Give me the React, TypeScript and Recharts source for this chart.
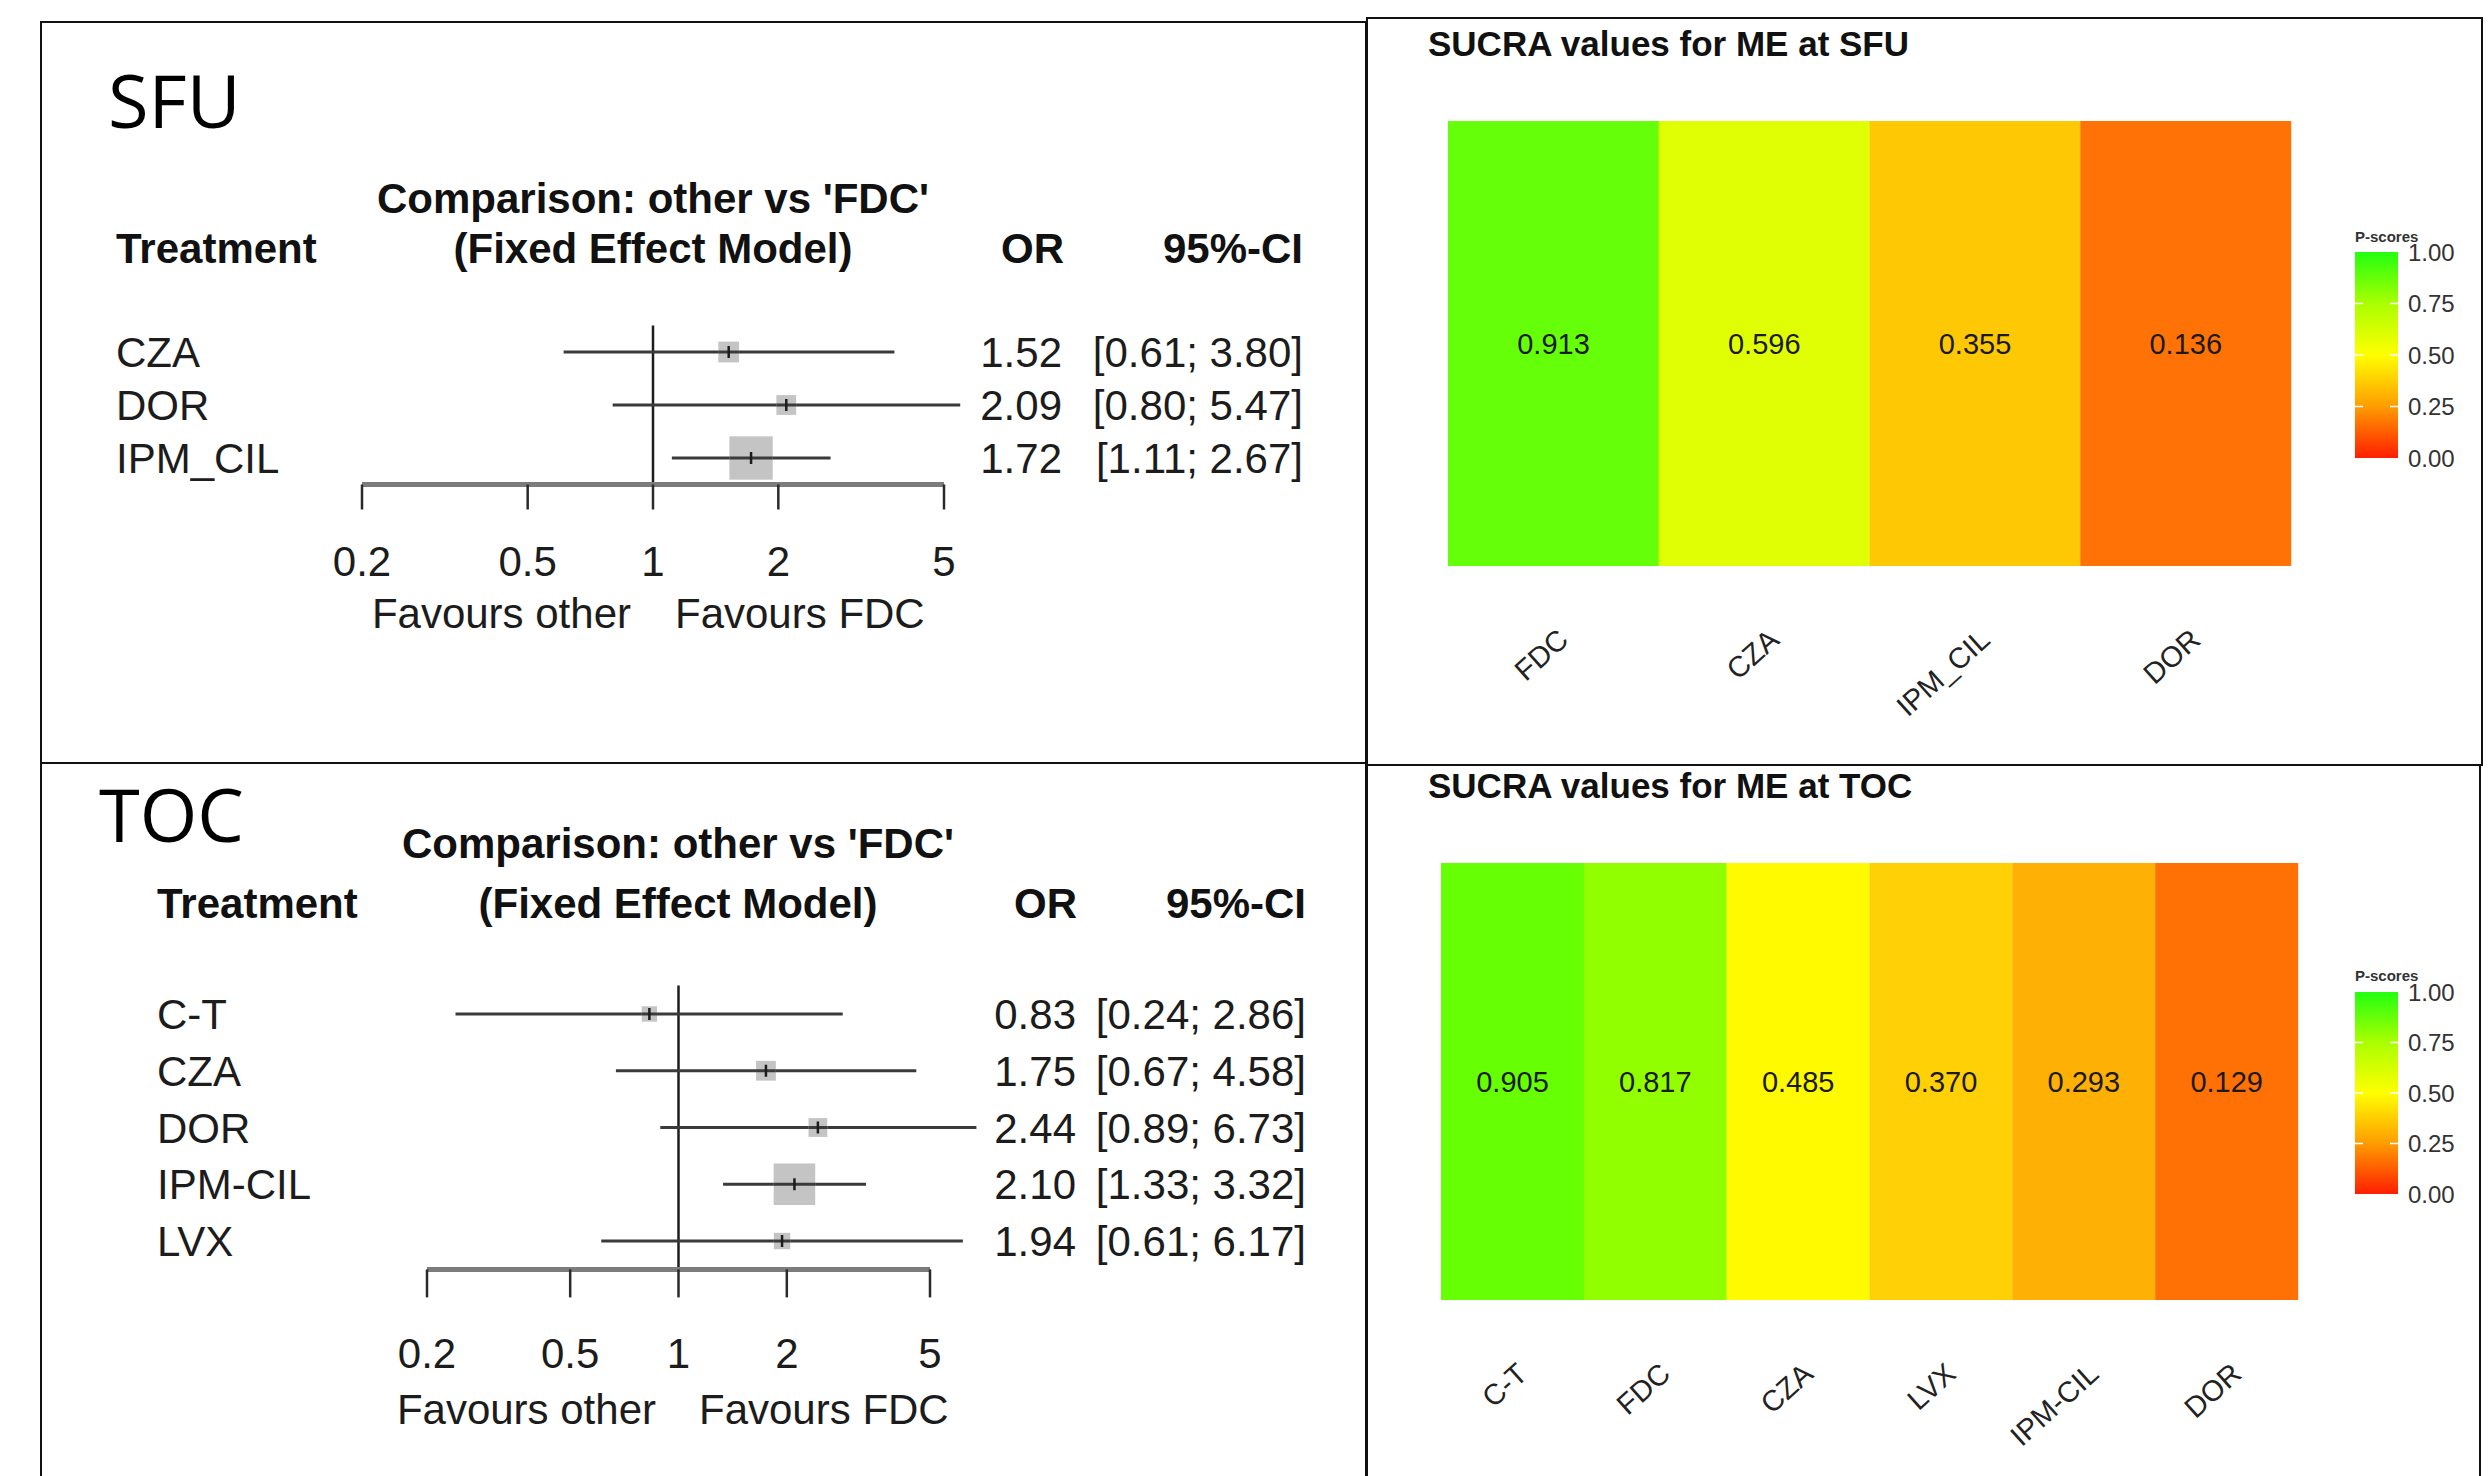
import React from 'react'
import {
  ScatterChart, Scatter, XAxis, YAxis, ReferenceLine,
  BarChart, Bar, Cell, LabelList,
} from 'recharts'

// forest plot data (OR vs FDC, fixed effect)
const SFU_TREAT = ['CZA', 'DOR', 'IPM_CIL']
const SFU_OR = [1.52, 2.09, 1.72]
const SFU_LO = [0.61, 0.80, 1.11]
const SFU_HI = [3.80, 5.47, 2.67]

const TOC_TREAT = ['C-T', 'CZA', 'DOR', 'IPM-CIL', 'LVX']
const TOC_OR = [0.83, 1.75, 2.44, 2.10, 1.94]
const TOC_LO = [0.24, 0.67, 0.89, 1.33, 0.61]
const TOC_HI = [2.86, 4.58, 6.73, 3.32, 6.17]

const OR_TICKS = [0.2, 0.5, 1, 2, 5]

// SUCRA / P-scores
const SFU_SUCRA_TREAT = ['FDC', 'CZA', 'IPM_CIL', 'DOR']
const SFU_SUCRA = [0.913, 0.596, 0.355, 0.136]
const SFU_TILE_COLORS = ['#66ff0a', '#e0ff05', '#ffc805', '#ff7205']

const TOC_SUCRA_TREAT = ['C-T', 'FDC', 'CZA', 'LVX', 'IPM-CIL', 'DOR']
const TOC_SUCRA = [0.905, 0.817, 0.485, 0.370, 0.293, 0.129]
const TOC_TILE_COLORS = ['#66ff03', '#92ff00', '#fffa00', '#ffd005', '#ffb005', '#ff7005']

const LEGEND_TICKS = [0, 0.25, 0.5, 0.75, 1]

const FONT = '"Liberation Sans", Arial, Helvetica, sans-serif'
const INK = '#1c1c1c'
const CI_LINE = '#3a3a3a'
const TXT = 42

interface ForestCfg {
  x: number; y: number; w: number; h: number
  plotL: number; plotR: number; plotT: number; plotB: number
  tickSize: number; tickMargin: number
  labelX: number; orX: number; ciX: number
}

const SFU_FOREST: ForestCfg = {
  x: 0, y: 0, w: 1367, h: 763,
  plotL: 362, plotR: 944, plotT: 325.5, plotB: 484.5,
  tickSize: 25, tickMargin: 37,
  labelX: 116, orX: 1062, ciX: 1303,
}

const TOC_FOREST: ForestCfg = {
  x: 0, y: 763, w: 1367, h: 713,
  plotL: 427, plotR: 930, plotT: 985.6, plotB: 1269.4,
  tickSize: 28, tickMargin: 41,
  labelX: 157, orX: 1076, ciX: 1306,
}

const AXIS_H = 130

function ForestPanel({ cfg, treat, or, lo, hi }: { cfg: ForestCfg; treat: string[]; or: number[]; lo: number[]; hi: number[] }) {
  const rows = treat.map((name, i) => ({
    row: i,
    name,
    or: or[i],
    lo: lo[i],
    hi: hi[i],
    se: (Math.log(hi[i]) - Math.log(lo[i])) / 3.92,
  }))

  const textProps = { fontFamily: FONT, fontSize: TXT, fill: INK }

  // grey box sized by inverse variance, then the row's texts
  const shape = (p: any) => {
    const { cx, cy, payload } = p
    const s = 9.7 / payload.se
    return (
      <g>
        <rect x={cx - s / 2} y={cy - s / 2} width={s} height={s} fill="#c4c4c4" />
        <line x1={cx - s / 2} x2={cx + s / 2} y1={cy} y2={cy} stroke={CI_LINE} strokeWidth={3} />
        <line x1={cx} x2={cx} y1={cy - 6} y2={cy + 6} stroke={INK} strokeWidth={2.5} />
        <text x={cfg.labelX - cfg.x} y={cy} dy="0.36em" {...textProps}>{payload.name}</text>
        <text x={cfg.orX - cfg.x} y={cy} dy="0.36em" textAnchor="end" {...textProps}>{payload.or.toFixed(2)}</text>
        <text x={cfg.ciX - cfg.x} y={cy} dy="0.36em" textAnchor="end" {...textProps}>
          {`[${payload.lo.toFixed(2)}; ${payload.hi.toFixed(2)}]`}
        </text>
      </g>
    )
  }

  return (
    <div style={{ position: 'absolute', left: cfg.x, top: cfg.y }}>
      <ScatterChart
        width={cfg.w}
        height={cfg.h}
        margin={{
          left: cfg.plotL - cfg.x,
          right: cfg.x + cfg.w - cfg.plotR,
          top: cfg.plotT - cfg.y,
          bottom: cfg.y + cfg.h - cfg.plotB - AXIS_H,
        }}
      >
        <XAxis
          type="number"
          dataKey="or"
          scale="log"
          domain={[0.2, 5]}
          ticks={OR_TICKS}
          tickFormatter={(v: number) => String(v)}
          height={AXIS_H}
          tickSize={cfg.tickSize}
          tickMargin={cfg.tickMargin}
          axisLine={{ stroke: '#7c7c7c', strokeWidth: 5 }}
          tickLine={{ stroke: '#2a2a2a', strokeWidth: 2.5 }}
          tick={{ fontFamily: FONT, fontSize: TXT, fill: INK }}
          interval={0}
        />
        <YAxis type="number" dataKey="row" domain={[-0.5, rows.length - 0.5]} reversed hide width={0} />
        <ReferenceLine x={1} stroke={INK} strokeWidth={2.5} />
        {rows.map(r => (
          <ReferenceLine
            key={r.name}
            segment={[{ x: r.lo, y: r.row }, { x: r.hi, y: r.row }]}
            stroke={CI_LINE}
            strokeWidth={3}
            ifOverflow="visible"
          />
        ))}
        <Scatter data={rows} shape={shape} isAnimationActive={false} />
      </ScatterChart>
    </div>
  )
}

interface SucraCfg {
  x: number; y: number; w: number; h: number
  plotL: number; plotR: number; plotT: number; plotB: number
}

const SFU_SUCRA_CFG: SucraCfg = { x: 1368, y: 18, w: 1114, h: 747, plotL: 1448, plotR: 2291, plotT: 121, plotB: 566 }
const TOC_SUCRA_CFG: SucraCfg = { x: 1368, y: 765, w: 1112, h: 711, plotL: 1441, plotR: 2298, plotT: 863, plotB: 1300 }

const HEAT_AXIS_H = 150

const RotTick = (props: any) => {
  const { x, y, payload } = props
  const ax = x + 3
  const ay = y + 61
  return (
    <text
      x={ax}
      y={ay}
      dy="0.71em"
      textAnchor="end"
      transform={`rotate(-42, ${ax}, ${ay})`}
      fontFamily={FONT}
      fontSize={29}
      fill="#222"
    >
      {payload.value}
    </text>
  )
}

function SucraPanel({ cfg, treat, scores, colors }: { cfg: SucraCfg; treat: string[]; scores: number[]; colors: string[] }) {
  const data = treat.map((name, i) => ({ name, score: scores[i] }))
  return (
    <div style={{ position: 'absolute', left: cfg.x, top: cfg.y }}>
      <BarChart
        width={cfg.w}
        height={cfg.h}
        data={data}
        barCategoryGap={0}
        barGap={0}
        margin={{
          left: cfg.plotL - cfg.x,
          right: cfg.x + cfg.w - cfg.plotR,
          top: cfg.plotT - cfg.y,
          bottom: cfg.y + cfg.h - cfg.plotB - HEAT_AXIS_H,
        }}
      >
        <XAxis
          dataKey="name"
          height={HEAT_AXIS_H}
          axisLine={false}
          tickLine={false}
          tickSize={0}
          tickMargin={0}
          interval={0}
          tick={RotTick}
        />
        <YAxis type="number" domain={[0, 1]} hide width={0} />
        <Bar dataKey={() => 1} isAnimationActive={false}>
          {data.map((d, i) => (
            <Cell key={d.name} fill={colors[i]} />
          ))}
          <LabelList
            dataKey="score"
            position="center"
            formatter={(v: any) => Number(v).toFixed(3)}
            fontFamily={FONT}
            fontSize={29}
            fill="#1a1a1a"
          />
        </Bar>
      </BarChart>
    </div>
  )
}

function ColorBar({ x, top, bottom, titleY, id }: { x: number; top: number; bottom: number; titleY: number; id: string }) {
  const w = 43
  const span = bottom - top
  return (
    <g>
      <defs>
        <linearGradient id={id} x1="0" y1="1" x2="0" y2="0">
          <stop offset="0%" stopColor="#ff1e00" />
          <stop offset="25%" stopColor="#ff9c00" />
          <stop offset="50%" stopColor="#ffff00" />
          <stop offset="75%" stopColor="#aaff00" />
          <stop offset="100%" stopColor="#22ff10" />
        </linearGradient>
      </defs>
      <text x={x} y={titleY} fontFamily={FONT} fontSize={15} fontWeight="bold" fill="#333">P-scores</text>
      <rect x={x} y={top} width={w} height={span} fill={`url(#${id})`} />
      {LEGEND_TICKS.map(v => {
        const yy = bottom - v * span
        return (
          <g key={v}>
            {v > 0 && v < 1 && (
              <>
                <line x1={x} x2={x + 8} y1={yy} y2={yy} stroke="#fff" strokeWidth={1.5} />
                <line x1={x + w - 8} x2={x + w} y1={yy} y2={yy} stroke="#fff" strokeWidth={1.5} />
              </>
            )}
            <text x={x + 53} y={yy} dy="0.36em" fontFamily={FONT} fontSize={24} fill="#333">{v.toFixed(2)}</text>
          </g>
        )
      })}
    </g>
  )
}

const boxLine = '2.5px solid #111'

export default function App() {
  const bold = { fontFamily: FONT, fontSize: 42, fontWeight: 'bold' as const, fill: '#111' }
  const plain = { fontFamily: FONT, fontSize: TXT, fill: INK }
  return (
    <div style={{ position: 'absolute', left: 0, top: 0, width: 2492, height: 1476, background: '#fff', overflow: 'hidden' }}>
      {/* panel frames */}
      <div style={{ position: 'absolute', left: 40, top: 21, width: 1327, height: 742, borderLeft: boxLine, borderTop: boxLine, borderRight: boxLine, boxSizing: 'border-box' }} />
      <div style={{ position: 'absolute', left: 40, top: 762, width: 1327, height: 720, borderLeft: boxLine, borderTop: boxLine, borderRight: boxLine, boxSizing: 'border-box' }} />
      <div style={{ position: 'absolute', left: 1366, top: 17, width: 1117, height: 749, border: boxLine, boxSizing: 'border-box' }} />
      <div style={{ position: 'absolute', left: 1366, top: 764, width: 1115, height: 720, borderLeft: boxLine, borderRight: boxLine, boxSizing: 'border-box' }} />

      <ForestPanel cfg={SFU_FOREST} treat={SFU_TREAT} or={SFU_OR} lo={SFU_LO} hi={SFU_HI} />
      <ForestPanel cfg={TOC_FOREST} treat={TOC_TREAT} or={TOC_OR} lo={TOC_LO} hi={TOC_HI} />
      <SucraPanel cfg={SFU_SUCRA_CFG} treat={SFU_SUCRA_TREAT} scores={SFU_SUCRA} colors={SFU_TILE_COLORS} />
      <SucraPanel cfg={TOC_SUCRA_CFG} treat={TOC_SUCRA_TREAT} scores={TOC_SUCRA} colors={TOC_TILE_COLORS} />

      <svg width={2492} height={1476} style={{ position: 'absolute', left: 0, top: 0, pointerEvents: 'none' }}>
        {/* SFU forest headers */}
        <text x={108} y={128} fontFamily='"Open Sans", "Noto Sans", sans-serif' fontSize={74} fill="#000">SFU</text>
        <text x={653} y={213} textAnchor="middle" {...bold}>Comparison: other vs 'FDC'</text>
        <text x={116} y={263} {...bold}>Treatment</text>
        <text x={653} y={263} textAnchor="middle" {...bold}>(Fixed Effect Model)</text>
        <text x={1064} y={263} textAnchor="end" {...bold}>OR</text>
        <text x={1303} y={263} textAnchor="end" {...bold}>95%-CI</text>
        <text x={631} y={628} textAnchor="end" {...plain}>Favours other</text>
        <text x={675} y={628} {...plain}>Favours FDC</text>

        {/* TOC forest headers */}
        <text x={99} y={842} fontFamily='"Open Sans", "Noto Sans", sans-serif' fontSize={74} fill="#000">TOC</text>
        <text x={678} y={858} textAnchor="middle" {...bold}>Comparison: other vs 'FDC'</text>
        <text x={157} y={918} {...bold}>Treatment</text>
        <text x={678} y={918} textAnchor="middle" {...bold}>(Fixed Effect Model)</text>
        <text x={1077} y={918} textAnchor="end" {...bold}>OR</text>
        <text x={1306} y={918} textAnchor="end" {...bold}>95%-CI</text>
        <text x={656} y={1424} textAnchor="end" {...plain}>Favours other</text>
        <text x={699} y={1424} {...plain}>Favours FDC</text>

        {/* SUCRA titles */}
        <text x={1428} y={56} fontFamily={FONT} fontSize={35} fontWeight="bold" fill="#111">SUCRA values for ME at SFU</text>
        <text x={1428} y={798} fontFamily={FONT} fontSize={35} fontWeight="bold" fill="#111">SUCRA values for ME at TOC</text>

        <ColorBar id="gradSfu" x={2355} top={252} bottom={458} titleY={242} />
        <ColorBar id="gradToc" x={2355} top={992} bottom={1194} titleY={981} />
      </svg>
    </div>
  )
}
